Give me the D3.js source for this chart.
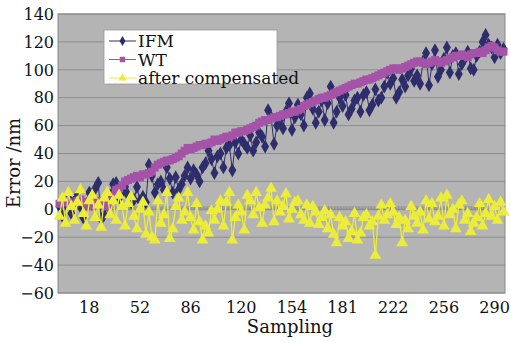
<!DOCTYPE html>
<html>
<head>
<meta charset="utf-8">
<script src="https://cdn.jsdelivr.net/npm/d3@7"></script>
<style>
  body { margin: 0; background: #fff; }
  svg text { font-family: "DejaVu Serif", "Liberation Serif", serif; fill: #111; }
</style>
</head>
<body>
<div id="chart"></div>
<script>
// values (one value per ~2 samples)
const ifm = [
  2, -5, 4, 8, -3, 6, 10, 2, -6, 4, 12, 9, 15, 19, -7, -4, 3, 10,
  18, 19, 8, 12, 16, 10, 5, 7, 16, 6, 9, 5,
  32, 24, 12, 18, 20, 14, 30, 22, 12, 23,
  14, 18, 24, 30, 22, 28, 25, 20, 30, 33,
  42, 36, 26, 38, 40, 30, 44, 46, 28, 48,
  40, 50, 47, 44, 53, 42, 48, 55, 52, 45,
  71, 66, 47, 60, 64, 58, 70, 76, 57, 66,
  75, 68, 60, 80, 83, 72, 62, 70, 78, 64,
  76, 88, 62, 70, 80, 74, 82, 68, 72, 78,
  80, 70, 82, 84, 71, 75, 86, 78, 80, 88,
  98, 90, 94, 80, 84, 93, 88, 96, 101, 92,
  96, 90, 106, 112, 89, 104, 114, 95, 100, 108,
  116, 98, 110, 112, 97, 104, 108, 113, 101, 100,
  110, 113, 120, 125, 118, 116, 109, 118, 112, 115
]
const wt = [
  4, 5, 6, 5, 3, 4, 6, 7, 5, 4, 2, 3, 5, 6, 4, 3, 2, 4,
  10, 14, 15, 17, 20, 21, 22, 23, 24, 23, 25, 25,
  26, 27, 30, 32, 33, 34, 35, 35, 36, 37,
  38, 40, 42, 44, 43, 44, 45, 46, 46, 47,
  47, 48, 50, 49, 50, 51, 52, 52, 53, 55,
  55, 56, 56, 57, 58, 59, 60, 62, 63, 64,
  64, 65, 66, 66, 67, 68, 68, 69, 70, 70,
  71, 72, 74, 75, 76, 77, 78, 79, 80, 80,
  81, 82, 83, 84, 85, 86, 87, 88, 89, 90,
  90, 91, 92, 93, 93, 94, 95, 96, 97, 98,
  99, 100, 101, 101, 100, 101, 102, 103, 104, 105,
  106, 106, 105, 104, 105, 106, 107, 106, 105, 106,
  107, 108, 109, 110, 110, 111, 110, 109, 111, 112,
  112, 113, 112, 114, 116, 117, 116, 114, 113, 113
]
const compensated = [
  -5, 8, -10, 12, 2, -8, 5, 14, -3, -12, 6, 10, -6, 3, -13, 8, 12, -4,
  6, -8, 10, 2, -12, 4, 9, -5, -14, 0, 5, -18,
  -2, -20, -22, 6, -10, -4, 12, -21, -14, 2,
  8, -8, -2, 12, -6, -15, 4, -9, -22, -12,
  -17, -1, -8, 0, 6, -12, 5, 12, -22, -6,
  3, -2, -15, 10, 6, -4, 12, 1, -10, 3,
  8, 15, -9, 6, -2, 2, 11, -7, 0, 5,
  6, -4, -8, 3, -10, 2, -2, -11, -6, -1,
  -14, -4, -18, -24, -6, -12, -9, -21, -16, -3,
  -22, -17, -6, -4, -12, -9, -33, -5, 3, -8,
  -4, 4, -2, -11, -6, -24, -8, -14, 2, -5,
  -10, -2, -15, 6, -7, 4, -9, -5, 8, -12,
  10, -4, 0, -14, 3, 6, -8, -3, -16, -10,
  -6, 4, -12, -3, 7, -5, 2, -8, 5, -2
]
const seriesNames = ['IFM', 'WT', 'after compensated']
const yTicks = [-60, -40, -20, 0, 20, 40, 60, 80, 100, 120, 140]
const xTickLabels = ['18', '52', '86', '120', '154', '181', '222', '256', '290']
const xTickIndex = [10, 27, 44, 61, 78, 95, 112, 129, 146]

const width = 511, height = 343
const plot = {left: 58, right: 505, top: 14, bottom: 293}

const svg = d3.select('#chart').append('svg')
  .attr('width', width)
  .attr('height', height)

const x = d3.scaleLinear().domain([0, ifm.length]).range([plot.left, plot.right])
const y = d3.scaleLinear().domain([-60, 140]).range([plot.bottom, plot.top])
const px = (d, i) => x(i + 0.5)

// plot area
svg.append('rect')
  .attr('x', plot.left).attr('y', plot.top)
  .attr('width', plot.right - plot.left).attr('height', plot.bottom - plot.top)
  .attr('fill', '#b4b4b4')

svg.append('g').selectAll('line')
  .data(yTicks)
  .enter().append('line')
  .attr('x1', plot.left).attr('x2', plot.right)
  .attr('y1', d => y(d)).attr('y2', d => y(d))
  .attr('stroke', '#8c8c8c')
  .attr('stroke-width', 1)

svg.append('rect')
  .attr('x', plot.left).attr('y', plot.top)
  .attr('width', plot.right - plot.left).attr('height', plot.bottom - plot.top)
  .attr('fill', 'none')
  .attr('stroke', '#888')

// category axis sits at 0, with a tick per sample
svg.append('g').selectAll('line')
  .data(d3.range(0, ifm.length, 0.5))
  .enter().append('line')
  .attr('x1', d => x(d + 0.25)).attr('x2', d => x(d + 0.25))
  .attr('y1', y(0) - 3).attr('y2', y(0) + 1)
  .attr('stroke', '#8a8a8a')
  .attr('stroke-width', 0.8)

// y labels
svg.append('g').selectAll('text')
  .data(yTicks)
  .enter().append('text')
  .attr('x', 54)
  .attr('y', d => y(d))
  .attr('dy', '0.36em')
  .attr('text-anchor', 'end')
  .style('font-size', '16px')
  .text(d => d < 0 ? '\u2212' + Math.abs(d) : d)

// x labels
svg.append('g').selectAll('text')
  .data(xTickLabels)
  .enter().append('text')
  .attr('x', (d, i) => x(xTickIndex[i] + 0.5))
  .attr('y', 313)
  .attr('text-anchor', 'middle')
  .style('font-size', '16px')
  .text(d => d)

svg.append('text')
  .attr('x', 290).attr('y', 333)
  .attr('text-anchor', 'middle')
  .style('font-size', '18px')
  .text('Sampling')

svg.append('text')
  .attr('transform', 'translate(20,163) rotate(-90)')
  .attr('text-anchor', 'middle')
  .style('font-size', '18px')
  .text('Error /nm')

// series
const series = [
  {name: seriesNames[0], values: ifm, color: '#2e2d6c', symbol: d3.symbolDiamond, size: 55, lw: 1},
  {name: seriesNames[1], values: wt, color: '#a553a8', symbol: d3.symbolSquare, size: 64, lw: 2},
  {name: seriesNames[2], values: compensated, color: '#ecec3a', symbol: d3.symbolTriangle, size: 60, lw: 1.3}
]

const line = d3.line().x(px).y(d => y(d))

series.forEach(s => {
  const g = svg.append('g')
  g.append('path')
    .datum(s.values)
    .attr('d', line)
    .attr('fill', 'none')
    .attr('stroke', s.color)
    .attr('stroke-width', s.lw)
  g.selectAll('path.pt')
    .data(s.values)
    .enter().append('path')
    .attr('class', 'pt')
    .attr('transform', (d, i) => 'translate(' + [px(d, i), y(d)] + ')')
    .attr('d', d3.symbol().type(s.symbol).size(s.size))
    .attr('fill', s.color)
})

// legend
const legend = svg.append('g').attr('transform', 'translate(104,30)')
legend.append('rect')
  .attr('width', 173).attr('height', 54)
  .attr('fill', '#fff')
  .attr('stroke', '#999')
  .attr('stroke-width', 0.8)

const item = legend.selectAll('g.item')
  .data(series)
  .enter().append('g')
  .attr('class', 'item')
  .attr('transform', (d, i) => 'translate(0,' + (11 + i * 18.5) + ')')

item.append('line')
  .attr('x1', 5).attr('x2', 32)
  .attr('stroke', d => d.color)
  .attr('stroke-width', 1)
item.append('path')
  .attr('transform', 'translate(18.5,0)')
  .attr('d', d => d3.symbol().type(d.symbol).size(30)())
  .attr('fill', d => d.color)
item.append('text')
  .attr('x', 34)
  .attr('y', 6)
  .style('font-size', '17px')
  .text(d => d.name)
</script>
</body>
</html>
